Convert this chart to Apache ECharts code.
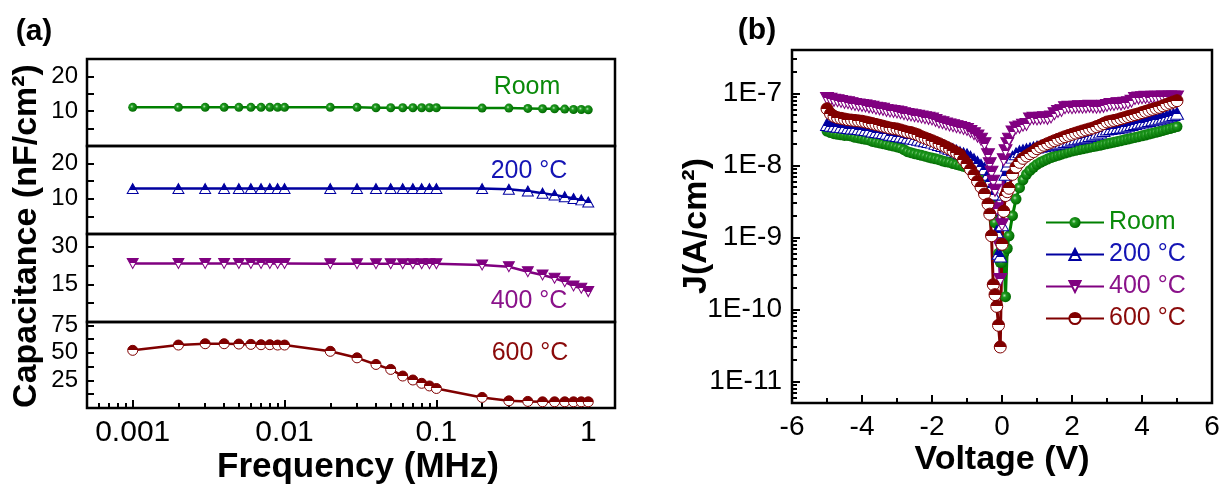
<!DOCTYPE html>
<html>
<head>
<meta charset="utf-8">
<script src="https://cdn.jsdelivr.net/npm/echarts@6/dist/echarts.min.js"></script>
<style>
  html, body { margin: 0; padding: 0; background: #fff; }
  #chart { width: 1223px; height: 488px; }
</style>
</head>
<body>
<div id="chart"></div>
<script>
// ---------- (a) capacitance vs frequency ----------
const freqMHz = [0.001, 0.002, 0.003, 0.004, 0.005, 0.006, 0.007, 0.008, 0.009, 0.01,
                 0.02, 0.03, 0.04, 0.05, 0.06, 0.07, 0.08, 0.09, 0.1,
                 0.2, 0.3, 0.4, 0.5, 0.6, 0.7, 0.8, 0.9, 1];
const capRoom = [11.1, 11.1, 11.1, 11.1, 11.1, 11.1, 11.1, 11.1, 11.1, 11.1,
                 11.1, 11.1, 11.0, 11.0, 11.0, 11.0, 11.0, 11.0, 11.0,
                 10.9, 10.9, 10.8, 10.7, 10.7, 10.6, 10.5, 10.5, 10.4];
const cap200 = [12.9, 12.9, 12.9, 12.9, 12.9, 12.9, 12.9, 12.9, 12.9, 12.9,
                12.9, 12.9, 12.9, 12.9, 12.9, 12.9, 12.9, 12.9, 12.9,
                12.9, 12.7, 12.2, 11.6, 11.1, 10.6, 10.1, 9.7, 9.1];
const cap400 = [23.3, 23.3, 23.3, 23.3, 23.3, 23.3, 23.3, 23.3, 23.3, 23.3,
                23.2, 23.2, 23.2, 23.2, 23.2, 23.2, 23.2, 23.2, 23.2,
                22.7, 22.0, 20.0, 18.7, 17.4, 16.0, 14.3, 13.4, 12.1];
const cap600 = [52.3, 57.1, 58.3, 58.3, 58.0, 57.7, 57.4, 57.4, 57.1, 57.1,
                51.4, 45.5, 39.5, 35.0, 29.0, 25.4, 22.4, 20.0, 17.7,
                9.6, 6.5, 6.0, 5.6, 5.6, 5.6, 5.6, 5.6, 5.6];
const freqTickLabels = ['0.001', '0.01', '0.1', '1'];
const freqRange = [0.0005, 1.5];
const capTickLabels = [[10, 20], [10, 20], [15, 30], [25, 50, 75]];
const capMinorTicks = [[5, 10, 15, 20], [5, 10, 15, 20], [7.5, 15, 22.5, 30], [12.5, 25, 37.5, 50, 62.5, 75]];
const capRanges = [[0, 25], [0, 25], [0, 35], [0, 78]];
const sampleNames = ['Room', '200 °C', '400 °C', '600 °C'];

// ---------- (b) leakage current density vs voltage ----------
const voltage = [-5.0, -4.9, -4.8, -4.7, -4.6, -4.5, -4.4, -4.3, -4.2, -4.1,
  -4.0, -3.9, -3.8, -3.7, -3.6, -3.5, -3.4, -3.3, -3.2, -3.1,
  -3.0, -2.9, -2.8, -2.7, -2.6, -2.5, -2.4, -2.3, -2.2, -2.1,
  -2.0, -1.9, -1.8, -1.7, -1.6, -1.5, -1.4, -1.3, -1.2, -1.1,
  -1.0, -0.9, -0.8, -0.7, -0.6, -0.5, -0.4,
  -0.35, -0.3, -0.25, -0.2, -0.15, -0.1, -0.05, 0, 0.05, 0.1, 0.15,
  0.2, 0.3, 0.4, 0.5, 0.6, 0.7, 0.8, 0.9, 1.0,
  1.1, 1.2, 1.3, 1.4, 1.5, 1.6, 1.7, 1.8, 1.9, 2.0,
  2.1, 2.2, 2.3, 2.4, 2.5, 2.6, 2.7, 2.8, 2.9, 3.0,
  3.1, 3.2, 3.3, 3.4, 3.5, 3.6, 3.7, 3.8, 3.9, 4.0,
  4.1, 4.2, 4.3, 4.4, 4.5, 4.6, 4.7, 4.8, 4.9, 5.0];
const jRoom = [3.0e-8, 2.85e-8, 2.75e-8, 2.7e-8, 2.65e-8, 2.6e-8, 2.6e-8, 2.55e-8, 2.45e-8, 2.4e-8,
  2.35e-8, 2.3e-8, 2.25e-8, 2.15e-8, 2.1e-8, 2.05e-8, 2.0e-8, 1.95e-8, 1.9e-8, 1.85e-8,
  1.8e-8, 1.75e-8, 1.65e-8, 1.55e-8, 1.5e-8, 1.45e-8, 1.42e-8, 1.38e-8, 1.34e-8, 1.3e-8,
  1.26e-8, 1.23e-8, 1.2e-8, 1.15e-8, 1.12e-8, 1.1e-8, 1.06e-8, 1.03e-8, 1.0e-8, 9.7e-9,
  9.4e-9, 8.8e-9, 8.0e-9, 7.2e-9, 6.3e-9, 5.4e-9, 4.3e-9,
  3.5e-9, 2.8e-9, 2.2e-9, 1.6e-9, 1.0e-9, 6.0e-10, 4.5e-10, 4.5e-10, 6.0e-10, 1.5e-10, 7.0e-10,
  1.05e-9, 2.0e-9, 3.4e-9, 4.9e-9, 6.3e-9, 7.5e-9, 8.5e-9, 9.4e-9, 1.03e-8,
  1.1e-8, 1.16e-8, 1.22e-8, 1.28e-8, 1.33e-8, 1.38e-8, 1.43e-8, 1.48e-8, 1.53e-8, 1.58e-8,
  1.62e-8, 1.66e-8, 1.7e-8, 1.74e-8, 1.78e-8, 1.82e-8, 1.86e-8, 1.9e-8, 1.95e-8, 2.0e-8,
  2.05e-8, 2.1e-8, 2.15e-8, 2.2e-8, 2.26e-8, 2.32e-8, 2.38e-8, 2.44e-8, 2.5e-8, 2.57e-8,
  2.64e-8, 2.72e-8, 2.8e-8, 2.88e-8, 2.96e-8, 3.05e-8, 3.15e-8, 3.25e-8, 3.35e-8, 3.45e-8];
const j200 = [3.7e-8, 3.6e-8, 3.55e-8, 3.5e-8, 3.45e-8, 3.4e-8, 3.35e-8, 3.3e-8, 3.3e-8, 3.25e-8,
  3.2e-8, 3.15e-8, 3.1e-8, 3.0e-8, 2.95e-8, 2.9e-8, 2.85e-8, 2.8e-8, 2.7e-8, 2.65e-8,
  2.6e-8, 2.55e-8, 2.5e-8, 2.45e-8, 2.4e-8, 2.35e-8, 2.3e-8, 2.25e-8, 2.2e-8, 2.15e-8,
  2.1e-8, 2.02e-8, 1.95e-8, 1.88e-8, 1.8e-8, 1.72e-8, 1.65e-8, 1.58e-8, 1.5e-8, 1.45e-8,
  1.4e-8, 1.3e-8, 1.2e-8, 1.1e-8, 1.0e-8, 9.0e-9, 7.5e-9,
  6.2e-9, 5.0e-9, 4.0e-9, 2.5e-9, 1.2e-9, 6.0e-10, 5.5e-10, 1.5e-9, 4.0e-9, 7.5e-9, 1.0e-8,
  1.15e-8, 1.3e-8, 1.45e-8, 1.55e-8, 1.6e-8, 1.65e-8, 1.7e-8, 1.75e-8, 1.8e-8,
  1.84e-8, 1.88e-8, 1.92e-8, 1.96e-8, 2.0e-8, 2.05e-8, 2.1e-8, 2.15e-8, 2.2e-8, 2.3e-8,
  2.35e-8, 2.4e-8, 2.45e-8, 2.5e-8, 2.6e-8, 2.7e-8, 2.8e-8, 2.9e-8, 3.05e-8, 3.2e-8,
  3.25e-8, 3.3e-8, 3.35e-8, 3.4e-8, 3.5e-8, 3.6e-8, 3.7e-8, 3.8e-8, 3.9e-8, 4.0e-8,
  4.1e-8, 4.2e-8, 4.3e-8, 4.4e-8, 4.5e-8, 4.65e-8, 4.8e-8, 4.95e-8, 5.1e-8, 5.3e-8];
const j400 = [8.5e-8, 8.3e-8, 8.0e-8, 7.9e-8, 7.7e-8, 7.5e-8, 7.4e-8, 7.2e-8, 7.0e-8, 6.9e-8,
  6.8e-8, 6.7e-8, 6.5e-8, 6.4e-8, 6.2e-8, 6.1e-8, 6.0e-8, 5.8e-8, 5.7e-8, 5.6e-8,
  5.5e-8, 5.4e-8, 5.2e-8, 5.1e-8, 5.0e-8, 4.9e-8, 4.8e-8, 4.7e-8, 4.6e-8, 4.5e-8,
  4.4e-8, 4.2e-8, 4.0e-8, 3.9e-8, 3.75e-8, 3.65e-8, 3.55e-8, 3.45e-8, 3.35e-8, 3.25e-8,
  3.15e-8, 2.95e-8, 2.75e-8, 2.55e-8, 2.3e-8, 2.0e-8, 1.4e-8,
  1.05e-8, 8.0e-9, 6.0e-9, 4.5e-9, 2.5e-9, 8.0e-10, 2.6e-10, 1.5e-9, 1.2e-8, 1.6e-8, 2.0e-8,
  2.3e-8, 2.9e-8, 3.3e-8, 3.4e-8, 3.6e-8, 3.7e-8, 4.4e-8, 4.5e-8, 4.4e-8,
  4.5e-8, 4.6e-8, 4.5e-8, 4.7e-8, 5.2e-8, 5.6e-8, 5.8e-8, 6.3e-8, 6.4e-8, 6.3e-8,
  6.4e-8, 6.5e-8, 6.4e-8, 6.5e-8, 6.6e-8, 6.5e-8, 6.4e-8, 6.5e-8, 6.6e-8, 6.8e-8,
  7.0e-8, 7.0e-8, 7.2e-8, 7.1e-8, 7.3e-8, 7.4e-8, 7.8e-8, 8.5e-8, 8.6e-8, 8.7e-8,
  8.8e-8, 8.7e-8, 8.8e-8, 8.8e-8, 8.8e-8, 8.9e-8, 8.8e-8, 8.9e-8, 8.9e-8, 8.9e-8];
const j600 = [6.1e-8, 5.2e-8, 4.8e-8, 4.6e-8, 4.5e-8, 4.4e-8, 4.3e-8, 4.25e-8, 4.2e-8, 4.15e-8,
  4.1e-8, 4.0e-8, 3.9e-8, 3.8e-8, 3.7e-8, 3.6e-8, 3.5e-8, 3.4e-8, 3.3e-8, 3.25e-8,
  3.2e-8, 3.1e-8, 3.0e-8, 2.9e-8, 2.85e-8, 2.75e-8, 2.65e-8, 2.5e-8, 2.4e-8, 2.3e-8,
  2.2e-8, 2.1e-8, 2.0e-8, 1.9e-8, 1.8e-8, 1.7e-8, 1.6e-8, 1.5e-8, 1.4e-8, 1.2e-8,
  1.05e-8, 8.8e-9, 7.4e-9, 6.0e-9, 5.0e-9, 4.0e-9, 2.9e-9,
  2.1e-9, 1.05e-9, 2.2e-10, 1.6e-10, 1.1e-10, 6.0e-11, 3.0e-11, 8.0e-10, 2.3e-9, 3.8e-9, 4.3e-9,
  4.8e-9, 7.5e-9, 9.5e-9, 1.1e-8, 1.25e-8, 1.35e-8, 1.45e-8, 1.55e-8, 1.7e-8,
  1.8e-8, 1.9e-8, 2.0e-8, 2.1e-8, 2.2e-8, 2.3e-8, 2.4e-8, 2.5e-8, 2.6e-8, 2.7e-8,
  2.8e-8, 2.9e-8, 3.0e-8, 3.1e-8, 3.2e-8, 3.3e-8, 3.45e-8, 3.6e-8, 3.8e-8, 4.0e-8,
  4.1e-8, 4.2e-8, 4.3e-8, 4.45e-8, 4.6e-8, 4.75e-8, 4.9e-8, 5.05e-8, 5.2e-8, 5.4e-8,
  5.6e-8, 5.8e-8, 6.0e-8, 6.2e-8, 6.4e-8, 6.7e-8, 7.0e-8, 7.3e-8, 7.6e-8, 7.9e-8];
const jTickLabels = ['1E-11', '1E-10', '1E-9', '1E-8', '1E-7'];
const jRange = [5e-12, 4e-7];
const voltRange = [-6, 6];

// ---------- styling ----------
const FONT = 'Liberation Sans';
const colors = ['#008000', '#0000a0', '#800080', '#800000'];
const labelColors = ['#0a8a0a', '#1414b4', '#8a128a', '#8a0a0a'];
const DOWN_TRI = 'path://M0,0L20,0L10,17Z';

function splitFill(c, at) {
  return new echarts.graphic.LinearGradient(0, 0, 0, 1, [
    { offset: 0, color: c }, { offset: at, color: c },
    { offset: at, color: '#ffffff' }, { offset: 1, color: '#ffffff' }
  ]);
}
function ballFill() {
  return new echarts.graphic.RadialGradient(0.4, 0.4, 0.6, [
    { offset: 0, color: '#b8e6b8' }, { offset: 0.3, color: '#1f9a1f' }, { offset: 1, color: '#006a00' }
  ]);
}
const markerStyles = [
  { symbol: 'circle', sizeA: 9, sizeB: 11, fill: ballFill(), border: 0 },
  { symbol: 'triangle', sizeA: [11, 10], sizeB: [13, 12], fill: splitFill(colors[1], 0.6), border: 1 },
  { symbol: DOWN_TRI, sizeA: [11, 10], sizeB: [13, 12], fill: splitFill(colors[2], 0.5), border: 1 },
  { symbol: 'circle', sizeA: 10, sizeB: 12, fill: splitFill(colors[3], 0.5), border: 1 }
];

const pairs = (xs, ys) => xs.map((x, i) => [x, ys[i]]);
const log10 = Math.log10;

// log-axis minor tick positions (2..9 per decade), in log space
function logMinor(range) {
  const out = [];
  const lo = Math.floor(log10(range[0])), hi = Math.ceil(log10(range[1]));
  for (let d = lo; d <= hi; d++) {
    for (let k = 2; k <= 9; k++) {
      const v = k * Math.pow(10, d);
      if (v > range[0] && v < range[1]) out.push(log10(v));
    }
  }
  return out;
}
function logMajor(labels) { return labels.map(t => log10(parseFloat(t))); }

// ---------- layout ----------
const aLeft = 87, aWidth = 528;
const aTops = [59, 146, 234, 322];
const aHeights = [87, 88, 88, 86];
const grids = aTops.map((t, i) => ({
  left: aLeft, top: t, width: aWidth, height: aHeights[i],
  show: true, borderColor: '#000', borderWidth: 2.5, backgroundColor: 'transparent'
}));
grids.push({ left: 792, top: 50, width: 420, height: 353,
  show: true, borderColor: '#000', borderWidth: 2.5, backgroundColor: 'transparent' });

const tickStyle = { color: '#000', width: 2 };
const noLine = { show: false, onZero: false };

const xAxes = [];
// data axes of panel (a): logarithmic frequency, kept invisible
for (let i = 0; i < 4; i++) {
  xAxes.push({ type: 'log', gridIndex: i, min: freqRange[0], max: freqRange[1], logBase: 10,
    position: 'bottom', show: false, axisLine: noLine });
}
// decade ticks + labels on the bottom subplot
const freqMajor = logMajor(freqTickLabels);
xAxes.push({ type: 'value', gridIndex: 3, position: 'bottom',
  min: log10(freqRange[0]), max: log10(freqRange[1]),
  axisLine: noLine, splitLine: { show: false },
  axisTick: { show: true, inside: true, length: 8, lineStyle: tickStyle, customValues: freqMajor },
  axisLabel: { customValues: freqMajor, margin: 10, fontSize: 30, fontFamily: FONT, color: '#000',
    formatter: v => freqTickLabels[freqMajor.findIndex(c => Math.abs(c - v) < 1e-6)] }
});
// minor ticks on the bottom subplot
xAxes.push({ type: 'value', gridIndex: 3, position: 'bottom',
  min: log10(freqRange[0]), max: log10(freqRange[1]),
  axisLine: noLine, splitLine: { show: false }, axisLabel: { show: false },
  axisTick: { show: true, inside: true, length: 5, lineStyle: tickStyle, customValues: logMinor(freqRange) }
});
// voltage axis of panel (b)
xAxes.push({ type: 'value', gridIndex: 4, position: 'bottom',
  min: voltRange[0], max: voltRange[1], interval: 2,
  axisLine: noLine, splitLine: { show: false },
  axisTick: { show: true, inside: true, length: 8, lineStyle: tickStyle },
  minorTick: { show: true, splitNumber: 2, length: 5, lineStyle: tickStyle },
  axisLabel: { margin: 10, fontSize: 28, fontFamily: FONT, color: '#000' }
});

const yAxes = [];
for (let i = 0; i < 4; i++) {
  yAxes.push({ type: 'value', gridIndex: i, position: 'left',
    min: capRanges[i][0], max: capRanges[i][1],
    axisLine: noLine, splitLine: { show: false },
    axisTick: { show: true, inside: true, length: 7, lineStyle: tickStyle, customValues: capMinorTicks[i] },
    axisLabel: { customValues: capTickLabels[i], margin: 9, fontSize: 24, fontFamily: FONT, color: '#000' }
  });
}
// panel (b) data axis (log), invisible
yAxes.push({ type: 'log', gridIndex: 4, position: 'left', min: jRange[0], max: jRange[1], logBase: 10,
  show: false, axisLine: noLine });
const jMajor = logMajor(jTickLabels);
yAxes.push({ type: 'value', gridIndex: 4, position: 'left',
  min: log10(jRange[0]), max: log10(jRange[1]),
  axisLine: noLine, splitLine: { show: false },
  axisTick: { show: true, inside: true, length: 8, lineStyle: tickStyle, customValues: jMajor },
  axisLabel: { customValues: jMajor, margin: 10, fontSize: 28, fontFamily: FONT, color: '#000',
    formatter: v => jTickLabels[jMajor.findIndex(c => Math.abs(c - v) < 1e-6)] }
});
yAxes.push({ type: 'value', gridIndex: 4, position: 'left',
  min: log10(jRange[0]), max: log10(jRange[1]),
  axisLine: noLine, splitLine: { show: false }, axisLabel: { show: false },
  axisTick: { show: true, inside: true, length: 5, lineStyle: tickStyle, customValues: logMinor(jRange) }
});

// ---------- series ----------
const capData = [capRoom, cap200, cap400, cap600];
const jData = [jRoom, j200, j400, j600];
const series = [];
capData.forEach((vals, i) => {
  const m = markerStyles[i];
  series.push({
    name: 'C-f ' + sampleNames[i], type: 'line', xAxisIndex: i, yAxisIndex: i,
    data: pairs(freqMHz, vals), symbol: m.symbol, symbolSize: m.sizeA, showAllSymbol: true,
    lineStyle: { color: colors[i], width: 2.5 },
    itemStyle: { color: m.fill, borderColor: colors[i], borderWidth: m.border }
  });
});
jData.forEach((vals, i) => {
  const m = markerStyles[i];
  series.push({
    name: sampleNames[i], type: 'line', xAxisIndex: 6, yAxisIndex: 4,
    data: pairs(voltage, vals), symbol: m.symbol, symbolSize: m.sizeB, showAllSymbol: true,
    lineStyle: { color: colors[i], width: 3 },
    itemStyle: { color: m.fill, borderColor: colors[i], borderWidth: m.border }
  });
});

// ---------- text ----------
function txt(x, y, text, font, fill, rotation) {
  return { type: 'text', x: x, y: y, rotation: rotation || 0, z: 10,
    style: { text: text, font: font, fill: fill || '#000',
      align: 'center', verticalAlign: 'middle', textAlign: 'center', textVerticalAlign: 'middle' } };
}
const graphic = [
  txt(34, 32, '(a)', 'bold 30px "' + FONT + '"'),
  txt(757, 31, '(b)', 'bold 30px "' + FONT + '"'),
  txt(27, 236, 'Capacitance (nF/cm²)', 'bold 34px "' + FONT + '"', '#000', Math.PI / 2),
  txt(358, 467, 'Frequency (MHz)', 'bold 35px "' + FONT + '"'),
  txt(1002, 460, 'Voltage (V)', 'bold 34px "' + FONT + '"'),
  txt(697, 226, 'J(A/cm²)', 'bold 34px "' + FONT + '"', '#000', Math.PI / 2),
  txt(527, 87, sampleNames[0], '25px "' + FONT + '"', labelColors[0]),
  txt(529, 171, sampleNames[1], '25px "' + FONT + '"', labelColors[1]),
  txt(529, 301, sampleNames[2], '25px "' + FONT + '"', labelColors[2]),
  txt(530, 353, sampleNames[3], '25px "' + FONT + '"', labelColors[3])
];

const chart = echarts.init(document.getElementById('chart'), null, { renderer: 'canvas' });
chart.setOption({
  animation: false,
  backgroundColor: '#fff',
  grid: grids,
  xAxis: xAxes,
  yAxis: yAxes,
  series: series,
  graphic: graphic,
  legend: {
    orient: 'vertical', left: 1040, top: 205, itemWidth: 58, itemHeight: 14, itemGap: 7,
    textStyle: { fontSize: 25, fontFamily: FONT },
    data: sampleNames.map((n, i) => ({ name: n, textStyle: { color: labelColors[i] } }))
  }
});
</script>
</body>
</html>
